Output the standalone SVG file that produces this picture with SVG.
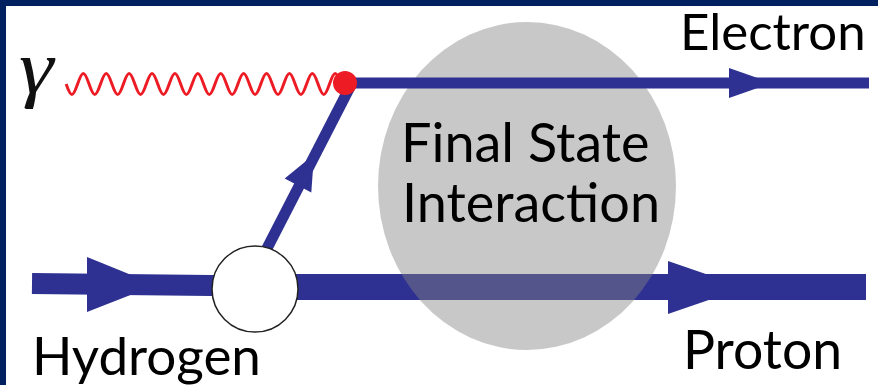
<svg xmlns="http://www.w3.org/2000/svg" width="878" height="385" viewBox="0 0 878 385">
<style>
.lbl{font-family:Lato,"Open Sans","Liberation Sans",sans-serif;fill:#000;}
.ln{stroke:#2E3192;fill:none;}
.ah{fill:#2E3192;}
</style>
<rect x="0" y="0" width="878" height="385" fill="#fff"/>
<g id="frame" fill="#002060">
<rect x="0" y="0" width="878" height="6"/>
<rect x="0" y="0" width="6" height="385"/>
</g>
<g id="connectors">
<g id="hydrogen-line">
<line class="ln" x1="32" y1="283.5" x2="255" y2="286" stroke-width="21"/>
<polygon class="ah" points="87,257 87,312 156,285"/>
</g>
<g id="proton-line">
<line class="ln" x1="255" y1="287" x2="866" y2="287" stroke-width="26"/>
<polygon class="ah" points="668,261 668,314 745,287.5"/>
</g>
<g id="diagonal-line">
<line class="ln" x1="260" y1="262" x2="352" y2="83" stroke-width="11"/>
<polygon class="ah" points="284.7,178.6 311.3,192.4 314,154.4"/>
</g>
<path id="photon" fill="none" stroke="#ED1C24" stroke-width="3" d="M66.15 84 c4.86 14 6.59 14 11.45 0 c4.86 -14 6.59 -14 11.45 0 c4.86 14 6.59 14 11.45 0 c4.86 -14 6.59 -14 11.45 0 c4.86 14 6.59 14 11.45 0 c4.86 -14 6.59 -14 11.45 0 c4.86 14 6.59 14 11.45 0 c4.86 -14 6.59 -14 11.45 0 c4.86 14 6.59 14 11.45 0 c4.86 -14 6.59 -14 11.45 0 c4.86 14 6.59 14 11.45 0 c4.86 -14 6.59 -14 11.45 0 c4.86 14 6.59 14 11.45 0 c4.86 -14 6.59 -14 11.45 0 c4.86 14 6.59 14 11.45 0 c4.86 -14 6.59 -14 11.45 0 c4.86 14 6.59 14 11.45 0 c4.86 -14 6.59 -14 11.45 0 c4.86 14 6.59 14 11.45 0 c4.86 -14 6.59 -14 11.45 0 c4.86 14 6.59 14 11.45 0 c4.86 -14 6.59 -14 11.45 0 c4.86 14 6.59 14 11.45 0 c4.86 -14 6.59 -14 11.45 0"/>
</g>
<g id="blob">
<circle cx="255" cy="289" r="43" fill="#fff" stroke="#222" stroke-width="1.5"/>
</g>
<g id="fsi">
<ellipse cx="527" cy="186" rx="149" ry="164" fill="#838383" fill-opacity="0.445"/>
<text class="lbl" x="401" y="162" font-size="54">Final State</text>
<text class="lbl" x="402" y="222" font-size="54">Interaction</text>
</g>
<g id="connectors-upper">
<g id="electron-line">
<line class="ln" x1="345" y1="83" x2="869" y2="83" stroke-width="11"/>
<polygon class="ah" points="729,68 729,98 772,83"/>
</g>
</g>
<g id="vertex">
<circle cx="345" cy="83" r="12" fill="#ED1C24"/>
</g>
<g id="labels">
<text id="gamma" transform="translate(19 93) scale(1.15 1)" x="0" y="0" font-family="'Liberation Serif','DejaVu Serif',serif" font-style="italic" font-size="76" fill="#111">γ</text>
<text class="lbl" x="680" y="50" font-size="51">Electron</text>
<text class="lbl" x="683" y="369" font-size="53.5">Proton</text>
<text class="lbl" x="32" y="375" font-size="53">Hydrogen</text>
</g>
</svg>
